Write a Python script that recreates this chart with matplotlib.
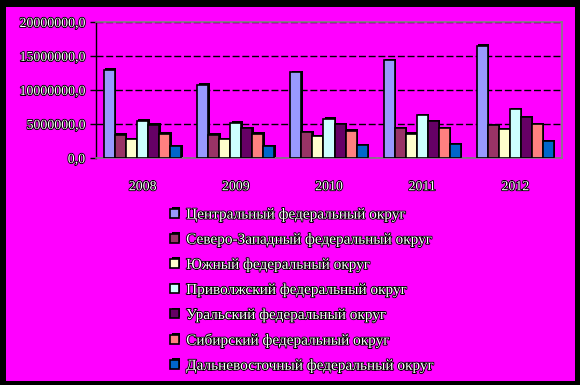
import matplotlib.pyplot as plt
import matplotlib.patheffects as pe
from matplotlib.patches import Rectangle
from matplotlib.ticker import FuncFormatter
import numpy as np

years = ['2008', '2009', '2010', '2011', '2012']
districts = ['Центральный федеральный округ',
             'Северо-Западный федеральный округ',
             'Южный федеральный округ',
             'Приволжский федеральный округ',
             'Уральский федеральный округ',
             'Сибирский федеральный округ',
             'Дальневосточный федеральный округ']
central = [13.0, 10.8, 12.6, 14.4, 16.5]
northwest = [3.4, 3.4, 3.8, 4.4, 4.8]
south = [2.8, 2.8, 3.2, 3.6, 4.2]
volga = [5.5, 5.2, 5.8, 6.3, 7.2]
ural = [4.9, 4.4, 5.0, 5.4, 6.0]
siberia = [3.6, 3.6, 4.0, 4.4, 5.0]
fareast = [1.7, 1.7, 1.9, 2.0, 2.5]
series = [central, northwest, south, volga, ural, siberia, fareast]
colors = ['#9999FF', '#993366', '#FFFFCC', '#CCFFFF', '#660066', '#FF8080', '#0066CC']

txt_fx = [pe.Stroke(linewidth=1.3, foreground='black'), pe.Normal()]
font = 'Liberation Serif'

fig = plt.figure(figsize=(5.8, 3.85), dpi=100, facecolor='black')
# magenta chart area inside black frame
fig.patches.append(Rectangle((6 / 580, 1 - 381 / 385), 569 / 580, 374 / 385,
                             transform=fig.transFigure, facecolor='#FF00FF',
                             edgecolor='none', zorder=-5))

ax = fig.add_axes([96 / 580, 1 - 158 / 385, 466 / 580, 136 / 385])
ax.set_facecolor('#FF00FF')

x = np.arange(len(years))
w = 0.1184
for i, (vals, c, lab) in enumerate(zip(series, colors, districts)):
    ax.bar(x + (i - 3) * w, np.array(vals) * 1e6, w, color=c, edgecolor='black',
           linewidth=1.2, label=lab, zorder=3,
           path_effects=[pe.SimplePatchShadow(offset=(1.0, 1.0), shadow_rgbFace='black', alpha=1),
                         pe.Normal()])

ax.set_xlim(-0.5, 4.5)
ax.set_ylim(0, 20e6)
ax.set_yticks(np.arange(0, 20e6 + 1, 5e6))
ax.yaxis.set_major_formatter(FuncFormatter(lambda v, p: f'{v:.1f}'.replace('.', ',')))
ax.set_xticks(x)
ax.set_xticklabels(years)
ax.grid(axis='y', color='black', linestyle=(0, (5, 2)), linewidth=1, zorder=1)
ax.set_axisbelow(True)
ax.tick_params(axis='x', length=0, pad=16)
ax.tick_params(axis='y', length=4, width=1, color='black', pad=4)
for lbl in ax.get_xticklabels() + ax.get_yticklabels():
    lbl.set_fontfamily(font)
    lbl.set_fontsize(10)
    lbl.set_color('white')
    lbl.set_path_effects(txt_fx)

ax.spines['left'].set_color('black')
ax.spines['left'].set_linewidth(1)
for s in ['top', 'right', 'bottom']:
    ax.spines[s].set_color('#808080')
    ax.spines[s].set_linewidth(1.2)

leg = fig.legend(loc='upper left', bbox_to_anchor=(164 / 580, 1 - 202 / 385),
                 frameon=False, prop={'family': font, 'size': 11},
                 handlelength=0.55, handleheight=0.55, handletextpad=0.5,
                 labelspacing=0.76, borderaxespad=0)
for t in leg.get_texts():
    t.set_color('white')
    t.set_path_effects(txt_fx)

fig.savefig('out.png', dpi=100, facecolor='black')
